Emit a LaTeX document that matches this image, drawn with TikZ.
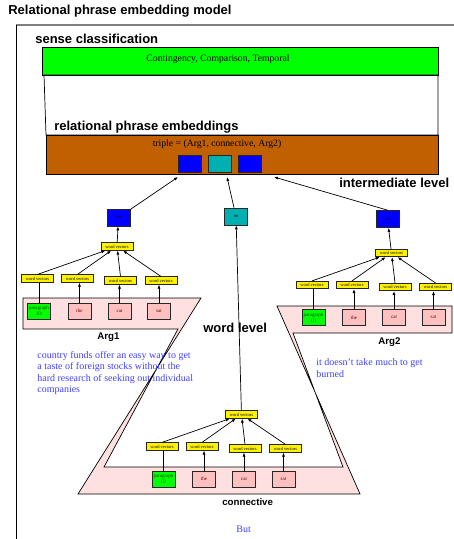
\documentclass[tikz,border=0pt]{standalone}
\usepackage{fontspec}
\setmainfont{Liberation Serif}
\setsansfont{Liberation Sans}
\usetikzlibrary{arrows.meta}
\definecolor{relbrown}{RGB}{192,96,0}
\definecolor{relcyan}{RGB}{0,176,176}
\definecolor{relpink}{RGB}{255,192,192}
\definecolor{bandpink}{RGB}{255,224,224}
\definecolor{textblue}{RGB}{64,64,255}
\tikzset{
  tag/.style={font=\sffamily\bfseries\fontsize{13}{15}\selectfont, anchor=base west, inner sep=0pt},
  smalltag/.style={font=\sffamily\bfseries\fontsize{9.7}{11}\selectfont, anchor=base west, inner sep=0pt},
  wordbox/.style={draw=black!85, fill=relpink, minimum width=23pt, minimum height=16pt, inner sep=0pt,
    font=\fontsize{5}{6}\selectfont, text=red!35!black},
  vecbox/.style={draw=black!85, fill=yellow, minimum width=32pt, minimum height=7.5pt, inner sep=0pt,
    font=\fontsize{4.5}{5}\selectfont},
  onbox/.style={draw=black!85, minimum width=23pt, minimum height=17pt, inner sep=0pt,
    font=\fontsize{4.5}{5}\selectfont},
  sentence/.style={font=\fontsize{10}{11.3}\selectfont, text=textblue, align=left, anchor=north west, inner sep=0pt}
}
\begin{document}
\begin{tikzpicture}[x=1pt, y=-1pt, line width=0.7pt, >={Latex[length=4pt,width=3pt]}]
            \useasboundingbox (0,0) rectangle (454,539);
            \draw[gray, line width=1.3pt] (16,25) -- (454,25);
            \draw (16,25) -- (16,539);
            \node[tag] (title) at (8,14.7) {Relational phrase embedding model};
            \node[tag] (senselbl) at (35,43) {sense classification};
            \node[draw, fill=green, minimum width=396pt, minimum height=28pt, inner sep=0pt] (sense) at (240,61) {};
            \node[font=\fontsize{9.7}{11}\selectfont] (senses) at (218,59) {Contingency, Comparison, Temporal};
            \draw (44,75) -- (438,75) -- (438,135) -- (46,135) -- cycle;
            \node[tag] (emblbl) at (54,130.5) {relational phrase embeddings};
            \node[draw, fill=relbrown, minimum width=392pt, minimum height=39pt, inner sep=0pt] (emb) at (242,154.5) {};
            \node[font=\fontsize{9.7}{11}\selectfont] (triple) at (217,144) {triple = (Arg1, connective, Arg2)};
            \node[onbox, fill=blue] (sq1) at (189.5,163.5) {};
            \node[onbox, fill=relcyan] (sq2) at (219.5,163.5) {};
            \node[onbox, fill=blue] (sq3) at (249.5,163.5) {};
            \node[tag] (midlbl) at (339,187) {intermediate level};
            \draw[fill=bandpink] (23,298) -- (201,298) -- (78,494) -- (360,494) -- (277,306) -- (452,306) -- (452,333)
              -- (293,333) -- (343,467) -- (104,467) -- (178,329) -- (23,329) -- cycle;
            \foreach \g/\px/\py in {a/39/311, b/313.5/317.5, c/163.5/479} {
              \node[wordbox, fill=green, text=green!30!black, align=center] (\g-p) at (\px,\py) {paragraph\\ID};
              \node[wordbox] (\g-the) at (\px+40.5,\py) {the};
              \node[wordbox] (\g-cat) at (\px+80.5,\py) {cat};
              \node[wordbox] (\g-sat) at (\px+120,\py) {sat};
              \node[vecbox] (\g-v1) at (\px-1.5,\py-32.5) {word vectors};
              \node[vecbox] (\g-v2) at (\px+38.5,\py-32.5) {word vectors};
              \node[vecbox] (\g-v3) at (\px+81.5,\py-30.5) {word vectors};
              \node[vecbox] (\g-v4) at (\px+122,\py-30.5) {word vectors};
              \node[vecbox] (\g-top) at (\px+78,\py-64.5) {word vectors};
              \draw (\g-p.north) -- (\g-p.north |- \g-v1.south);
              \draw[->] (\g-the.north) -- (\g-the.north |- \g-v2.south);
              \draw[->] (\g-cat.north) -- (\g-cat.north |- \g-v3.south);
              \draw[->] (\g-sat.north) -- (\g-sat.north |- \g-v4.south);
              \foreach \k in {1,...,4}
                \draw[->] (\g-v\k.north) -- (\g-top);
            }
            \node[onbox, fill=blue] (a-on) at (118.5,217.5) {on};
            \node[onbox, fill=relcyan] (c-on) at (236,216.5) {on};
            \node[onbox, fill=blue] (b-on) at (387.5,219) {on};
            \draw[->] (a-top) -- (a-on);
            \draw[->] (b-top) -- (b-on);
            \draw[->] (c-top) -- (c-on);
            \coordinate (e1) at (178,177);
            \coordinate (e2) at (227,177);
            \coordinate (e3) at (274,177);
            \draw[->] (a-on) -- (e1);
            \draw[->] (c-on) -- (e2);
            \draw[->] (b-on.north) -- (e3);
            \node[tag] (wordlbl) at (203,332.7) {word level};
            \node[smalltag] (arg1) at (97,339) {Arg1};
            \node[smalltag] (arg2) at (378,344) {Arg2};
            \node[smalltag] (conn) at (222,505.7) {connective};
            \node[sentence] (arg1txt) at (37,351.3) {country funds offer an easy way to get\\a taste of foreign stocks without the\\hard research of seeking out individual\\companies};
            \node[sentence] (arg2txt) at (316,358.7) {it doesn't take much to get\\burned};
            \node[font=\fontsize{10}{11}\selectfont, text=textblue, anchor=base west, inner sep=0pt] (conntxt) at (236,532) {But};
        \end{tikzpicture}
\end{document}
